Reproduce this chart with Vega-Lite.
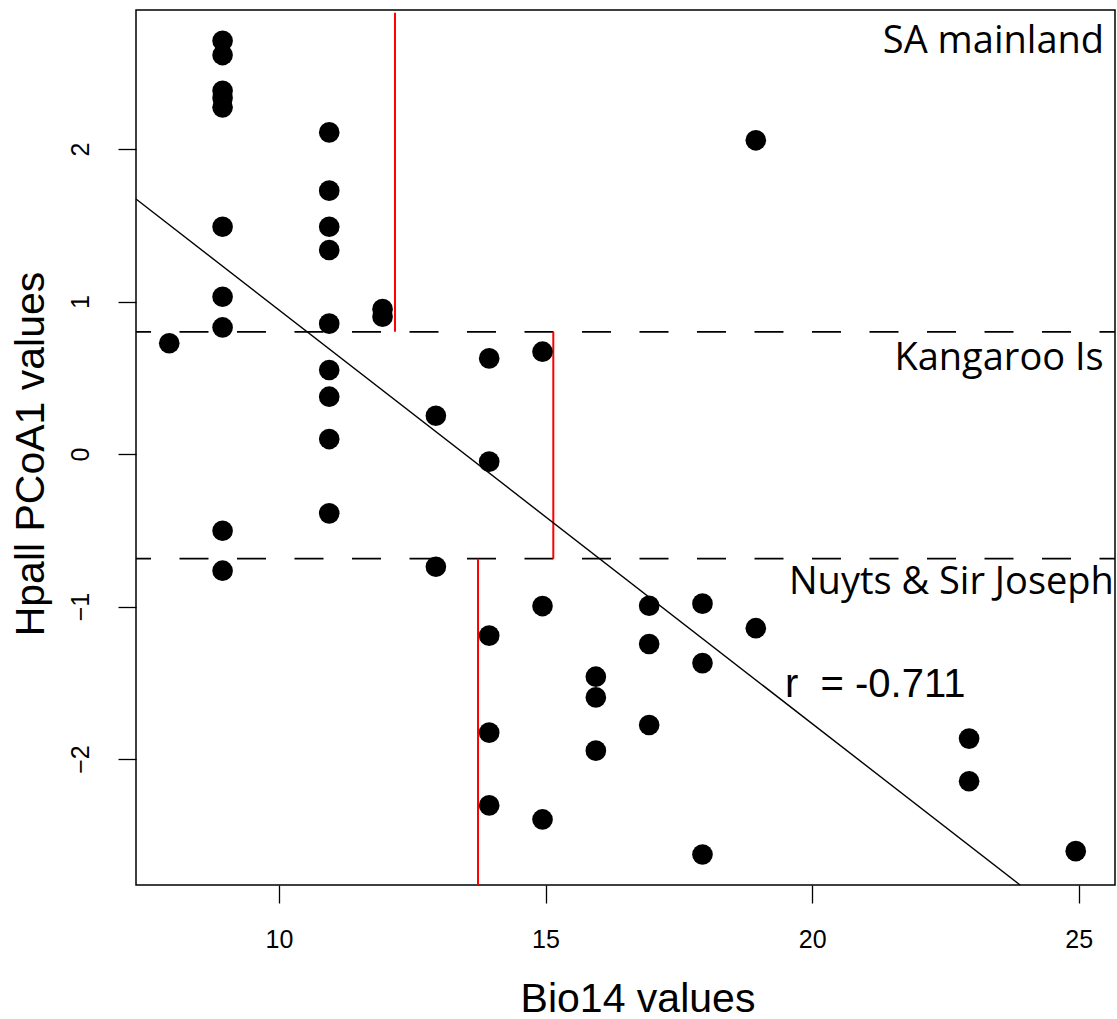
{
  "$schema": "https://vega.github.io/schema/vega-lite/v6.json",
  "width": 979,
  "height": 875,
  "autosize": {"type": "none"},
  "padding": {"left": 136, "top": 10, "right": 2, "bottom": 134},
  "background": "white",
  "config": {
    "view": {"stroke": "black", "strokeWidth": 1.5},
    "axis": {"grid": false, "domain": false}
  },
  "encoding": {
    "x": {
      "field": "x", "type": "quantitative",
      "scale": {"domain": [7.32, 25.68], "nice": false, "zero": false},
      "axis": {
        "title": "Bio14 values", "values": [10, 15, 20, 25],
        "grid": false, "domain": false,
        "tickSize": 18, "tickWidth": 1.3, "tickColor": "black",
        "labelFont": "Liberation Sans", "labelFontSize": 25, "labelColor": "black",
        "labelPadding": 24, "labelBaseline": "top", "labelFlush": false, "labelOverlap": false,
        "titleFont": "Liberation Sans", "titleFontSize": 41, "titleFontWeight": "normal", "titleColor": "black",
        "titleBaseline": "alphabetic", "titleAlign": "center", "titleX": 501.5, "titleY": 126
      }
    },
    "y": {
      "field": "y", "type": "quantitative",
      "scale": {"domain": [-2.826, 2.9115], "nice": false, "zero": false},
      "axis": {
        "title": "Hpall PCoA1 values", "values": [-2, -1, 0, 1, 2],
        "grid": false, "domain": false,
        "tickSize": 18, "tickWidth": 1.3, "tickColor": "black",
        "labelFont": "Liberation Sans", "labelFontSize": 25, "labelColor": "black",
        "labelAngle": 270, "labelAlign": "center", "labelBaseline": "alphabetic",
        "labelPadding": 30, "labelFlush": false, "labelOverlap": false,
        "titleFont": "Liberation Sans", "titleFontSize": 41, "titleFontWeight": "normal", "titleColor": "black",
        "titleAngle": 270, "titleBaseline": "alphabetic", "titleAlign": "center", "titleX": -92.7, "titleY": 443.5
      }
    }
  },
  "layer": [
    {
      "data": {"values": [
        {"x": 7.32, "x2": 25.68, "y": 0.801},
        {"x": 7.32, "x2": 25.68, "y": -0.686}
      ]},
      "mark": {"type": "rule", "color": "black", "strokeWidth": 1.7, "strokeDash": [29, 28.5], "strokeDashOffset": 14},
      "encoding": {"x2": {"field": "x2"}}
    },
    {
      "data": {"values": [
        {"x": 12.177, "y": 0.801, "y2": 2.893},
        {"x": 15.146, "y": -0.686, "y2": 0.801},
        {"x": 13.734, "y": -2.826, "y2": -0.686}
      ]},
      "mark": {"type": "rule", "color": "#ff0000", "strokeWidth": 2},
      "encoding": {"y2": {"field": "y2"}}
    },
    {
      "data": {"values": [
        {"x": 7.32, "y": 1.672, "x2": 23.90, "y2": -2.826}
      ]},
      "mark": {"type": "rule", "color": "black", "strokeWidth": 1.4},
      "encoding": {"x2": {"field": "x2"}, "y2": {"field": "y2"}}
    },
    {
      "data": {"values": [
        {"x": 8, "y": 0.726},
        {"x": 9, "y": 2.710}, {"x": 9, "y": 2.616}, {"x": 9, "y": 2.382}, {"x": 9, "y": 2.335}, {"x": 9, "y": 2.273},
        {"x": 9, "y": 1.490}, {"x": 9, "y": 1.031}, {"x": 9, "y": 0.830}, {"x": 9, "y": -0.503}, {"x": 9, "y": -0.765},
        {"x": 11, "y": 2.109}, {"x": 11, "y": 1.727}, {"x": 11, "y": 1.490}, {"x": 11, "y": 1.338}, {"x": 11, "y": 0.855},
        {"x": 11, "y": 0.551}, {"x": 11, "y": 0.376}, {"x": 11, "y": 0.098}, {"x": 11, "y": -0.389},
        {"x": 12, "y": 0.950}, {"x": 12, "y": 0.900},
        {"x": 13, "y": 0.251}, {"x": 13, "y": -0.739},
        {"x": 14, "y": 0.627}, {"x": 14, "y": -0.050}, {"x": 14, "y": -1.191}, {"x": 14, "y": -1.827}, {"x": 14, "y": -2.304},
        {"x": 15, "y": 0.671}, {"x": 15, "y": -0.997}, {"x": 15, "y": -2.396},
        {"x": 16, "y": -1.460}, {"x": 16, "y": -1.596}, {"x": 16, "y": -1.945},
        {"x": 17, "y": -0.995}, {"x": 17, "y": -1.246}, {"x": 17, "y": -1.777},
        {"x": 18, "y": -0.981}, {"x": 18, "y": -1.371}, {"x": 18, "y": -2.626},
        {"x": 19, "y": 2.057}, {"x": 19, "y": -1.142},
        {"x": 23, "y": -1.866}, {"x": 23, "y": -2.146},
        {"x": 25, "y": -2.604}
      ]},
      "mark": {"type": "circle", "color": "black", "opacity": 1, "size": 426, "xOffset": -3}
    },
    {
      "data": {"values": [
        {"x": 25.475, "y": 2.629, "label": "SA mainland"},
        {"x": 25.468, "y": 0.551, "label": "Kangaroo Is"},
        {"x": 25.66, "y": -0.918, "label": "Nuyts & Sir Joseph"}
      ]},
      "mark": {"type": "text", "font": "Open Sans", "fontSize": 38, "align": "right", "baseline": "alphabetic", "color": "black"},
      "encoding": {"text": {"field": "label"}}
    },
    {
      "data": {"values": [
        {"x": 19.49, "y": -1.590, "label": "r\u00a0\u00a0= -0.711"}
      ]},
      "mark": {"type": "text", "font": "Liberation Sans", "fontSize": 40, "align": "left", "baseline": "alphabetic", "color": "black"},
      "encoding": {"text": {"field": "label"}}
    }
  ]
}
